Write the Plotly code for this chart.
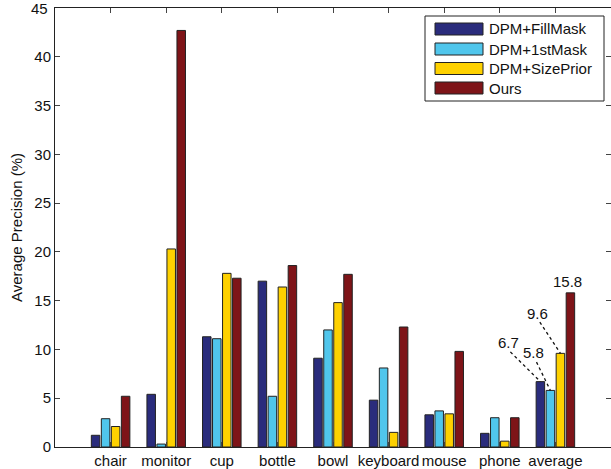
import plotly.graph_objects as go

categories = ["chair", "monitor", "cup", "bottle", "bowl", "keyboard", "mouse", "phone", "average"]
series_names = ["DPM+FillMask", "DPM+1stMask", "DPM+SizePrior", "Ours"]
fillmask = [1.2, 5.4, 11.3, 17.0, 9.1, 4.8, 3.3, 1.4, 6.7]
firstmask = [2.9, 0.3, 11.1, 5.2, 12.0, 8.1, 3.7, 3.0, 5.8]
sizeprior = [2.1, 20.3, 17.8, 16.4, 14.8, 1.5, 3.4, 0.6, 9.6]
ours = [5.2, 42.7, 17.3, 18.6, 17.7, 12.3, 9.8, 3.0, 15.8]
colors = ["#2a2c7c", "#50c6ec", "#fed100", "#7e1418"]
y_ticks = [0, 5, 10, 15, 20, 25, 30, 35, 40, 45]

series = [fillmask, firstmask, sizeprior, ours]
xpos = list(range(1, len(categories) + 1))

W, H = 611, 469
L, R, T, B = 55, 0, 8, 22
FONT = "Liberation Sans, Arial, sans-serif"

fig = go.Figure()
for name, vals, col in zip(series_names, series, colors):
    fig.add_trace(go.Bar(
        x=xpos, y=vals, name=name,
        marker=dict(color=col, line=dict(color="#222222", width=1)),
        showlegend=False,
    ))

bargap = 0.28
slot = (1 - bargap) / 4


def bar_x(cat_index, series_index):
    return xpos[cat_index] + (series_index - 1.5) * slot


def px_to_paper(px, py):
    pw = W - L - R
    ph = H - T - B
    return (px - L) / pw, (H - B - py) / ph


shapes = []
annotations = []

# value labels for the "average" group
avg = len(categories) - 1
label_specs = [
    (0, 8.15, 10.7, 8.19, 9.75),
    (1, 8.60, 9.65, 8.66, 8.7),
    (2, 8.67, 13.65, 8.72, 12.8),
]
for si, tx, ty, lx, ly in label_specs:
    v = series[si][avg]
    annotations.append(dict(x=tx, y=ty, xref="x", yref="y", text=f"{v:.1f}",
                            showarrow=False, font=dict(family=FONT, size=15, color="#111111")))
    shapes.append(dict(type="line", xref="x", yref="y", x0=lx, y0=ly,
                       x1=bar_x(avg, si), y1=v,
                       line=dict(color="#111111", width=1.3, dash="dot")))
annotations.append(dict(x=bar_x(avg, 3) - 0.05, y=ours[avg], xref="x", yref="y",
                        text=f"{ours[avg]:.1f}", yanchor="bottom", yshift=1,
                        showarrow=False, font=dict(family=FONT, size=15, color="#111111")))

# top y tick label (plotly drops the label sitting on the very top edge)
annotations.append(dict(x=0, y=y_ticks[-1], xref="paper", yref="y", text=str(y_ticks[-1]),
                        xanchor="right", yanchor="middle", xshift=-5, showarrow=False,
                        font=dict(family=FONT, size=15, color="#111111")))

# custom legend
x0, y0 = px_to_paper(425, 16)
x1, y1 = px_to_paper(604, 101)
shapes.append(dict(type="rect", xref="paper", yref="paper", x0=x0, y0=y1, x1=x1, y1=y0,
                   fillcolor="white", line=dict(color="#222222", width=1), layer="above"))
rows = [29, 49, 68.5, 88]
for name, col, ry in zip(series_names, colors, rows):
    sx0, sy0 = px_to_paper(435, ry - 6)
    sx1, sy1 = px_to_paper(483, ry + 6)
    shapes.append(dict(type="rect", xref="paper", yref="paper", x0=sx0, y0=sy1, x1=sx1, y1=sy0,
                       fillcolor=col, line=dict(color="#222222", width=1), layer="above"))
    tx, ty = px_to_paper(487, ry)
    annotations.append(dict(x=tx, y=ty, xref="paper", yref="paper", text=name,
                            xanchor="left", yanchor="middle", showarrow=False,
                            font=dict(family=FONT, size=15, color="#111111")))

fig.update_layout(
    width=W, height=H,
    margin=dict(l=L, r=R, t=T, b=B, pad=0),
    paper_bgcolor="white", plot_bgcolor="white",
    barmode="group", bargap=bargap, bargroupgap=0.15,
    font=dict(family=FONT, size=15, color="#111111"),
    shapes=shapes, annotations=annotations,
    showlegend=False,
)
fig.update_xaxes(
    range=[0, 10], tickmode="array", tickvals=xpos, ticktext=categories,
    showline=True, linecolor="#222222", linewidth=1, mirror="ticks",
    ticks="inside", ticklen=5, tickcolor="#444444", showgrid=False, zeroline=False,
    tickfont=dict(family=FONT, size=15, color="#111111"),
)
fig.update_yaxes(
    range=[0, 45], tickmode="array", tickvals=y_ticks[:-1] + [y_ticks[-1] - 1e-9],
    ticktext=[str(t) for t in y_ticks[:-1]] + [""],
    showline=True, linecolor="#222222", linewidth=1, mirror="ticks",
    ticks="inside", ticklen=5, tickcolor="#444444", showgrid=False, zeroline=False,
    tickfont=dict(family=FONT, size=15, color="#111111"),
    title=dict(text="Average Precision (%)", standoff=8,
               font=dict(family=FONT, size=15, color="#111111")),
)

fig.write_html(
    "out.html",
    config={"displayModeBar": False},
    post_script="document.body.style.margin='0';document.body.style.overflow='hidden';",
)
